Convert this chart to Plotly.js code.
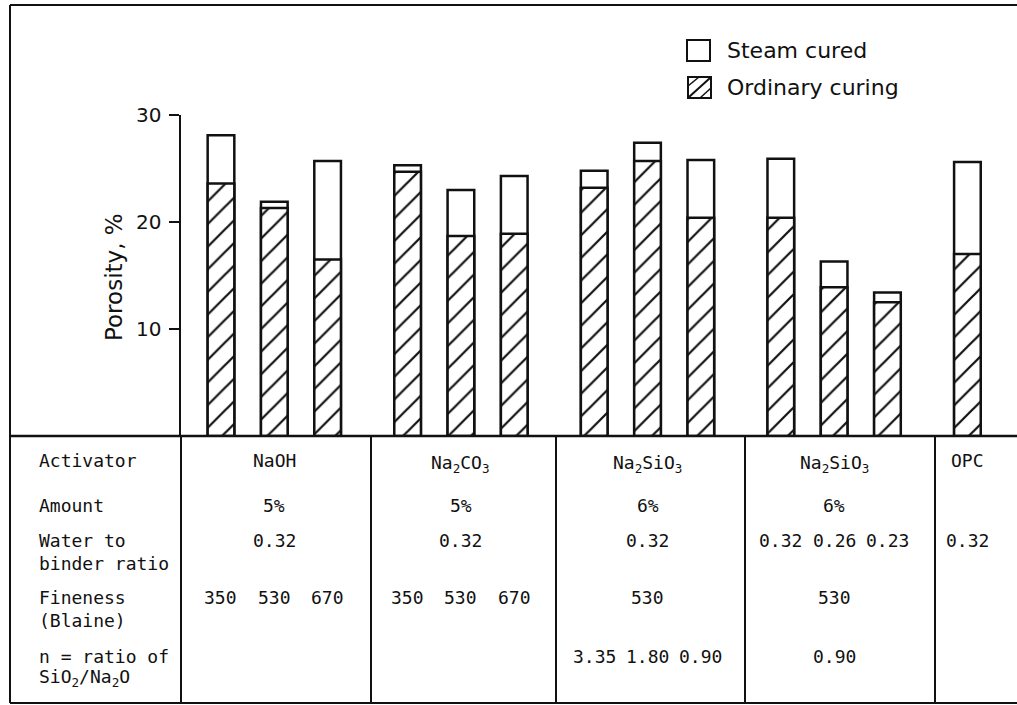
<!DOCTYPE html>
<html>
<head>
<meta charset="utf-8">
<script src="https://cdn.plot.ly/plotly-3.0.1.min.js"></script>
<style>html,body{margin:0;padding:0;background:#fff;}#chart{width:1017px;height:705px;}</style>
</head>
<body>
<div id="chart"></div>
<script>
// ---- data ----
const activators = ['NaOH', 'Na<sub>2</sub>CO<sub>3</sub>', 'Na<sub>2</sub>SiO<sub>3</sub>', 'Na<sub>2</sub>SiO<sub>3</sub>', 'OPC'];
const amounts = ['5%', '5%', '6%', '6%', ''];
const groupSizes = [3, 3, 3, 3, 1];
const steamCured = [28.1, 21.9, 25.7, 25.3, 23.0, 24.3, 24.8, 27.4, 25.8, 25.9, 16.3, 13.4, 25.6];
const ordinaryCuring = [23.6, 21.3, 16.5, 24.7, 18.7, 18.9, 23.2, 25.7, 20.4, 20.4, 13.9, 12.5, 17.0];
const waterRatio = ['0.32','0.32','0.32','0.32','0.32','0.32','0.32','0.32','0.32','0.32','0.26','0.23','0.32'];
const fineness = ['350','530','670','350','530','670','530','530','530','530','530','530',''];
const nRatio = ['','','','','','','3.35','1.80','0.90','0.90','0.90','0.90',''];
const rowLabels = [['Activator'], ['Amount'], ['Water to', 'binder ratio'], ['Fineness', '(Blaine)'], ['n = ratio of', 'SiO<sub>2</sub>/Na<sub>2</sub>O']];
const yTicks = [10, 20, 30];
const legendNames = ['Steam cured', 'Ordinary curing'];
const yLabel = 'Porosity, %';

// ---- layout helpers ----
const L = 181, R = 1017, T = 115, B = 436;
const px = p => (p - L) / (R - L);
const py = p => (B - p) / (B - T);

// bar positions from the group structure
const xPos = [], groupIdx = [];
groupSizes.forEach((n, g) => { for (let i = 0; i < n; i++) { xPos.push(g * 3.5 + i); groupIdx.push(g); } });

const mono = {family: 'DejaVu Sans Mono', size: 18, color: '#111'};
const sans = 'DejaVu Sans';

const traces = [
  {type: 'bar', x: xPos, y: steamCured, width: 0.5, name: legendNames[0], showlegend: false,
   marker: {color: 'white', line: {color: '#111', width: 2.5}}},
  {type: 'bar', x: xPos, y: ordinaryCuring, width: 0.5, name: legendNames[1], showlegend: false,
   marker: {color: 'white', line: {color: '#111', width: 2.5},
            pattern: {shape: '/', size: 16, solidity: 0.14, fgcolor: '#111', bgcolor: 'white', fillmode: 'replace'}}}
];

const shapes = [];
const line = (x0, y0, x1, y1, w) => shapes.push({type: 'line', xref: 'paper', yref: 'paper',
  x0: px(x0), y0: py(y0), x1: px(x1), y1: py(y1), line: {color: '#111', width: w || 2}});
// frame and table
line(10, 5, 1017, 5);
line(10, 5, 10, 703);
line(10, 703, 1017, 703);
line(10, 436, 1017, 436, 2.5);
[181, 371, 556, 745, 935].forEach(x => line(x, 436, x, 703));
// legend boxes
shapes.push({type: 'rect', xref: 'paper', yref: 'paper', x0: px(687), x1: px(710), y0: py(40), y1: py(61), line: {color: '#111', width: 2}});
shapes.push({type: 'rect', xref: 'paper', yref: 'paper', x0: px(688), x1: px(711), y0: py(77), y1: py(98), line: {color: '#111', width: 2}});
line(689, 97, 710, 78, 2);
line(688, 86, 699, 77, 1.5);
line(700, 98, 711, 88, 1.5);

const ann = [];
const txt = (x, y, text, opts) => ann.push(Object.assign({xref: 'paper', yref: 'paper', x: px(x), y: py(y), text: text,
  showarrow: false, font: mono, xanchor: 'center', yanchor: 'middle'}, opts || {}));

// row labels
const rowY = [[460], [505], [540, 563], [597, 620], [656, 678]];
rowLabels.forEach((lines, r) => lines.forEach((t, k) => txt(37, rowY[r][k], t, {xanchor: 'left'})));

// group and bar values
const xToPaper = x => (x - (-0.75)) / (14.93 - (-0.75));
const addRow = (vals, y) => {
  groupSizes.forEach((n, g) => {
    const idx = groupIdx.map((gg, i) => gg === g ? i : -1).filter(i => i >= 0);
    const v = idx.map(i => vals[i]);
    const same = v.every(s => s === v[0]);
    if (same) {
      if (v[0] !== '') {
        const c = idx.reduce((s, i) => s + xPos[i], 0) / idx.length;
        ann.push({xref: 'paper', yref: 'paper', x: xToPaper(c), y: py(y), text: v[0], showarrow: false, font: mono, xanchor: 'center', yanchor: 'middle'});
      }
    } else {
      idx.forEach(i => { if (vals[i] !== '') ann.push({xref: 'paper', yref: 'paper', x: xToPaper(xPos[i]), y: py(y), text: vals[i], showarrow: false, font: mono, xanchor: 'center', yanchor: 'middle'}); });
    }
  });
};
activators.forEach((a, g) => {
  const idx = groupIdx.map((gg, i) => gg === g ? i : -1).filter(i => i >= 0);
  const c = idx.reduce((s, i) => s + xPos[i], 0) / idx.length;
  ann.push({xref: 'paper', yref: 'paper', x: xToPaper(c), y: py(a.indexOf('<sub>') >= 0 ? 464 : 460), text: a, showarrow: false, font: mono, xanchor: 'center', yanchor: 'middle'});
  if (amounts[g]) ann.push({xref: 'paper', yref: 'paper', x: xToPaper(c), y: py(505), text: amounts[g], showarrow: false, font: mono, xanchor: 'center', yanchor: 'middle'});
});
addRow(waterRatio, 540);
addRow(fineness, 597);
addRow(nRatio, 656);

// legend text
txt(725, 50, legendNames[0], {xanchor: 'left', font: {family: sans, size: 22, color: '#111'}});
txt(725, 87, legendNames[1], {xanchor: 'left', font: {family: sans, size: 22, color: '#111'}});
// y axis label
txt(114, 277, yLabel, {textangle: -90, font: {family: sans, size: 23, color: '#111'}});

const layout = {
  width: 1017, height: 705,
  margin: {l: L, r: 1017 - R, t: T, b: 705 - B, pad: 0},
  paper_bgcolor: 'white', plot_bgcolor: 'white',
  barmode: 'overlay',
  showlegend: false,
  xaxis: {range: [-0.75, 14.93], showticklabels: false, ticks: '', showline: false, showgrid: false, zeroline: false, fixedrange: true},
  yaxis: {range: [0, 30], tickvals: yTicks, ticks: 'outside', ticklen: 10, tickwidth: 2, tickcolor: '#111',
          showline: true, linewidth: 2.5, linecolor: '#111', showgrid: false, zeroline: false,
          tickfont: {family: sans, size: 20, color: '#111'}, ticklabelstandoff: 3, fixedrange: true},
  shapes: shapes,
  annotations: ann
};
Plotly.newPlot('chart', traces, layout, {displayModeBar: false, staticPlot: true});
</script>
</body>
</html>
